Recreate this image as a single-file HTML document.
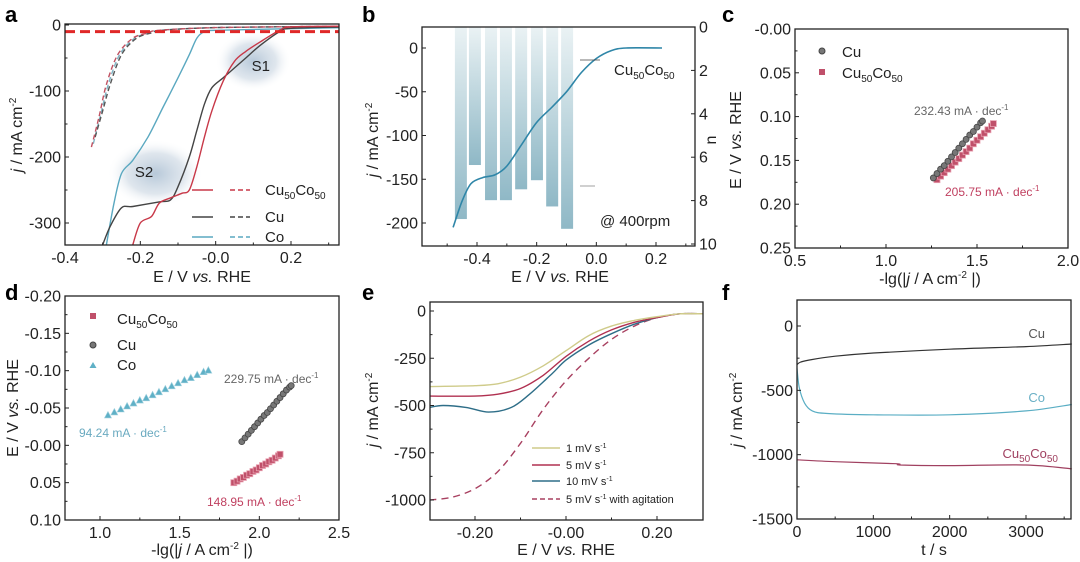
<!DOCTYPE html>
<html><head><meta charset="utf-8"><style>
html,body{margin:0;padding:0;background:#fff;}
svg{display:block;font-family:"Liberation Sans",sans-serif;}
</style></head><body>
<svg id="fig" width="1080" height="562" viewBox="0 0 1080 562">
<defs>
<radialGradient id="blob"><stop offset="0" stop-color="#9fb6cc" stop-opacity="0.75"/><stop offset="0.6" stop-color="#b8c8d8" stop-opacity="0.45"/><stop offset="1" stop-color="#fff" stop-opacity="0"/></radialGradient>
<linearGradient id="barg" x1="0" y1="0" x2="0" y2="1"><stop offset="0" stop-color="#eaf2f4"/><stop offset="1" stop-color="#8fb8c6"/></linearGradient>
</defs>
</svg>
<script>
// ---- data ----
const aE_cu50 = [-0.22,-0.2,-0.17,-0.15,-0.12,-0.09,-0.07,-0.05,-0.03,-0.01,0.02,0.05,0.08,0.12,0.17,0.2,0.33];
const aJ_cu50 = [-333,-300,-290,-270,-262,-255,-250,-215,-170,-130,-85,-55,-40,-25,-8,-3,-2];
const aE_cu = [-0.3,-0.28,-0.25,-0.22,-0.15,-0.12,-0.1,-0.07,-0.05,-0.03,-0.01,0.02,0.05,0.08,0.12,0.17,0.2,0.33];
const aJ_cu = [-333,-305,-277,-275,-268,-265,-245,-200,-160,-120,-95,-80,-65,-50,-30,-10,-5,-3];
const aE_co = [-0.29,-0.27,-0.25,-0.22,-0.18,-0.14,-0.1,-0.07,-0.05,-0.03,0,0.33];
const aJ_co = [-333,-270,-225,-205,-170,-125,-80,-45,-20,-10,-8,-4];
const aE_cu50d = [-0.33,-0.31,-0.29,-0.26,-0.22,-0.18,-0.15,0,0.33];
const aJ_cu50d = [-185,-140,-90,-45,-20,-12,-8,-4,-2];
const aE_cud = [-0.32,-0.30,-0.28,-0.25,-0.21,-0.17,-0.14,0,0.33];
const aJ_cud = [-170,-130,-90,-45,-20,-12,-8,-4,-2];
const aE_cod = [-0.325,-0.305,-0.285,-0.255,-0.215,-0.175,-0.145,0,0.33];
const aJ_cod = [-180,-135,-90,-45,-20,-12,-8,-4,-2];
const aThreshold = -10;

const bE = [-0.48,-0.45,-0.42,-0.38,-0.34,-0.30,-0.25,-0.20,-0.15,-0.10,-0.05,0,0.05,0.1,0.22];
const bJ = [-205,-175,-155,-148,-145,-135,-110,-85,-68,-50,-28,-12,-3,0,0];
const bBarE = [-0.454,-0.407,-0.353,-0.303,-0.252,-0.199,-0.148,-0.098];
const bBarN = [8.85,6.36,7.98,7.98,7.48,7.06,8.27,9.3];

const cCuX = [1.26,1.28,1.30,1.32,1.34,1.36,1.38,1.40,1.42,1.44,1.46,1.48,1.50,1.52,1.53];
const cCuY = [0.170,0.165,0.160,0.156,0.151,0.146,0.141,0.136,0.131,0.126,0.121,0.117,0.112,0.107,0.105];
const cAlX = [1.28,1.30,1.32,1.34,1.36,1.38,1.40,1.42,1.44,1.46,1.48,1.50,1.52,1.54,1.56,1.58,1.59];
const cAlY = [0.172,0.168,0.164,0.160,0.156,0.152,0.148,0.144,0.140,0.136,0.131,0.127,0.123,0.119,0.115,0.111,0.108];

const dCoX = [1.05,1.09,1.13,1.17,1.21,1.25,1.29,1.33,1.37,1.41,1.45,1.49,1.53,1.57,1.61,1.65,1.68];
const dCoY = [-0.040,-0.044,-0.048,-0.052,-0.056,-0.060,-0.063,-0.067,-0.071,-0.075,-0.079,-0.083,-0.087,-0.090,-0.094,-0.098,-0.100];
const dCuX = [1.89,1.91,1.93,1.95,1.97,1.99,2.01,2.03,2.05,2.07,2.09,2.11,2.13,2.15,2.17,2.19,2.20];
const dCuY = [-0.005,-0.010,-0.015,-0.020,-0.025,-0.030,-0.035,-0.040,-0.044,-0.049,-0.054,-0.059,-0.064,-0.069,-0.074,-0.078,-0.080];
const dAlX = [1.84,1.86,1.88,1.90,1.92,1.94,1.96,1.98,2.00,2.02,2.04,2.06,2.08,2.10,2.12,2.13];
const dAlY = [0.050,0.048,0.045,0.043,0.040,0.038,0.035,0.033,0.030,0.027,0.025,0.022,0.020,0.017,0.014,0.012];

const e1E = [-0.3,-0.2,-0.15,-0.1,-0.05,0,0.05,0.1,0.15,0.2,0.25,0.3];
const e1J = [-400,-395,-385,-350,-290,-210,-130,-80,-50,-30,-15,-15];
const e5E = [-0.3,-0.2,-0.15,-0.1,-0.05,0,0.05,0.1,0.15,0.2,0.25,0.3];
const e5J = [-450,-450,-440,-410,-340,-240,-160,-100,-60,-35,-15,-15];
const e10E = [-0.3,-0.27,-0.22,-0.17,-0.12,-0.08,-0.03,0,0.05,0.1,0.15,0.2,0.25,0.3];
const e10J = [-510,-500,-510,-535,-510,-440,-330,-260,-180,-120,-70,-35,-15,-15];
const eAgE = [-0.3,-0.25,-0.2,-0.15,-0.1,-0.05,0,0.05,0.1,0.15,0.2,0.25,0.3];
const eAgJ = [-1000,-985,-940,-850,-700,-520,-370,-250,-150,-80,-35,-15,-15];

const fCuT = [0,50,200,500,1000,2000,3000,3600];
const fCuJ = [-300,-280,-260,-235,-210,-180,-160,-140];
const fCoT = [0,30,100,200,400,1000,2000,3000,3600];
const fCoJ = [-330,-480,-600,-660,-680,-690,-690,-660,-610];
const fAlT = [0,500,1300,1350,2000,3000,3600];
const fAlJ = [-1040,-1055,-1070,-1080,-1085,-1080,-1110];

// ---- helpers ----
const NS = 'http://www.w3.org/2000/svg';
const svg = document.getElementById('fig');
const TF = 16;
function mk(tag, attrs, name, parent) {
  const e = document.createElementNS(NS, tag);
  for (const k in attrs) e.setAttribute(k, attrs[k]);
  
  
  (parent || svg).appendChild(e);
  return e;
}
function lin(d0, d1, p0, p1) { return v => p0 + (v - d0) * (p1 - p0) / (d1 - d0); }
function txt(x, y, html, size, name, opts) {
  opts = opts || {};
  const t = mk('text', {x: x, y: y, 'font-size': size, fill: opts.fill || '#222', 'text-anchor': opts.anchor || 'middle'}, name);
  if (opts.rot) t.setAttribute('transform', 'rotate(-90 ' + x + ' ' + y + ')');
  if (opts.bold) t.setAttribute('font-weight', 'bold');
  t.innerHTML = html;
  return t;
}
function frame(p, id) {
  mk('rect', {x: p.l, y: p.t, width: p.r - p.l, height: p.b - p.t, fill: 'none', stroke: '#222', 'stroke-width': 1.3}, id + '-frame');
}
function xticks(p, sx, vals, labels, id, minor) {
  vals.forEach((v, i) => {
    const x = sx(v);
    mk('line', {x1: x, x2: x, y1: p.b, y2: p.b - 4, stroke: '#222'}, id + '-x-tick');
    txt(x, p.b + 18, labels[i], TF, id + '-x-tick-label');
  });
  (minor || []).forEach(v => { const x = sx(v); mk('line', {x1: x, x2: x, y1: p.b, y2: p.b - 2.5, stroke: '#222'}, id + '-x-minor-tick'); });
}
function yticks(p, sy, vals, labels, id, minor) {
  vals.forEach((v, i) => {
    const y = sy(v);
    mk('line', {x1: p.l, x2: p.l + 4, y1: y, y2: y, stroke: '#222'}, id + '-y-tick');
    txt(p.l - 4, y + 5.5, labels[i], TF, id + '-y-tick-label', {anchor: 'end'});
  });
  (minor || []).forEach(v => { const y = sy(v); mk('line', {x1: p.l, x2: p.l + 2.5, y1: y, y2: y, stroke: '#222'}, id + '-y-minor-tick'); });
}
function smoothPath(pts) {
  let d = 'M' + pts[0][0].toFixed(1) + ',' + pts[0][1].toFixed(1);
  for (let i = 0; i < pts.length - 1; i++) {
    const p0 = pts[Math.max(0, i - 1)], p1 = pts[i], p2 = pts[i + 1], p3 = pts[Math.min(pts.length - 1, i + 2)];
    const t = 0.16;
    const c1x = p1[0] + (p2[0] - p0[0]) * t, c1y = p1[1] + (p2[1] - p0[1]) * t;
    const c2x = p2[0] - (p3[0] - p1[0]) * t, c2y = p2[1] - (p3[1] - p1[1]) * t;
    d += ' C' + c1x.toFixed(1) + ',' + c1y.toFixed(1) + ' ' + c2x.toFixed(1) + ',' + c2y.toFixed(1) + ' ' + p2[0].toFixed(1) + ',' + p2[1].toFixed(1);
  }
  return d;
}
function curve(xs, ys, sx, sy, color, name, dash, w) {
  const pts = xs.map((v, i) => [sx(v), sy(ys[i])]);
  const a = {d: smoothPath(pts), fill: 'none', stroke: color, 'stroke-width': w || 1.4, 'stroke-linejoin': 'round'};
  if (dash) a['stroke-dasharray'] = dash;
  return mk('path', a, name);
}
function clipFor(p, id) {
  const c = mk('clipPath', {id: id}, id);
  mk('rect', {x: p.l, y: p.t, width: p.r - p.l, height: p.b - p.t}, id + '-rect', c);
  return mk('g', {'clip-path': 'url(#' + id + ')'}, id + '-group');
}
function markers(xs, ys, sx, sy, kind, name) {
  xs.forEach((v, i) => {
    const x = sx(v), y = sy(ys[i]);
    if (kind === 'circle') mk('circle', {cx: x, cy: y, r: 3, fill: '#777', stroke: '#444', 'stroke-width': 0.8}, name);
    else if (kind === 'square') mk('rect', {x: x - 3, y: y - 3, width: 6, height: 6, fill: '#c0506a', stroke: '#e8a0b0', 'stroke-width': 0.8}, name);
    else mk('polygon', {points: x + ',' + (y - 4) + ' ' + (x - 3.5) + ',' + (y + 2.5) + ' ' + (x + 3.5) + ',' + (y + 2.5), fill: '#5fb0c6', stroke: '#9fd0de', 'stroke-width': 0.6}, name);
  });
}
const JY = '<tspan font-style="italic">j</tspan> / mA cm<tspan dy="-6" font-size="10">-2</tspan>';
const EX = 'E / V <tspan font-style="italic">vs.</tspan> RHE';
const LGX = '-lg(|<tspan font-style="italic">j</tspan> / A cm<tspan dy="-6" font-size="10">-2</tspan><tspan dy="6"> |)</tspan>';
const CUCO = 'Cu<tspan dy="4" font-size="10">50</tspan><tspan dy="-4">Co</tspan><tspan dy="4" font-size="10">50</tspan>';

// ---- panel a ----
{
  const p = {l: 65, t: 24, r: 339, b: 245};
  const sx = lin(-0.4, 0.2, 65, 291), sy = lin(0, -300, 25, 223);
  mk('ellipse', {cx: sx(0.1), cy: sy(-55), rx: 38, ry: 30, fill: 'url(#blob)'}, 'a-region-s1');
  mk('ellipse', {cx: sx(-0.16), cy: sy(-225), rx: 48, ry: 34, fill: 'url(#blob)'}, 'a-region-s2');
  const g = clipFor(p, 'clip-a');
  [[aE_cod, aJ_cod, '#80b4c4', 'a-co-dashed'], [aE_cud, aJ_cud, '#555', 'a-cu-dashed'], [aE_cu50d, aJ_cu50d, '#c05060', 'a-cu50co50-dashed']].forEach(s => g.appendChild(curve(s[0], s[1], sx, sy, s[2], s[3], '5,3')));
  g.appendChild(curve(aE_co, aJ_co, sx, sy, '#5aa8c0', 'a-co-curve'));
  g.appendChild(curve(aE_cu, aJ_cu, sx, sy, '#444', 'a-cu-curve'));
  g.appendChild(curve(aE_cu50, aJ_cu50, sx, sy, '#c83848', 'a-cu50co50-curve'));
  g.appendChild(mk('line', {x1: p.l, x2: p.r, y1: sy(aThreshold), y2: sy(aThreshold), stroke: '#e02828', 'stroke-width': 3, 'stroke-dasharray': '10,5'}, 'a-threshold-line'));
  frame(p, 'a');
  xticks(p, sx, [-0.4, -0.2, 0, 0.2], ['-0.4', '-0.2', '-0.0', '0.2'], 'a', [-0.3, -0.1, 0.1, 0.3]);
  yticks(p, sy, [0, -100, -200, -300], ['0', '-100', '-200', '-300'], 'a', [-50, -150, -250]);
  txt(sx(0.12), sy(-70), 'S1', 15, 'a-label-s1');
  txt(sx(-0.19), sy(-230), 'S2', 15, 'a-label-s2');
  [['#c83848', CUCO, 190], ['#444', 'Cu', 217], ['#5aa8c0', 'Co', 237]].forEach(l => {
    mk('line', {x1: 192, x2: 213, y1: l[2], y2: l[2], stroke: l[0], 'stroke-width': 1.4}, 'a-legend-solid');
    mk('line', {x1: 230, x2: 250, y1: l[2], y2: l[2], stroke: l[0], 'stroke-width': 1.4, 'stroke-dasharray': '5,3'}, 'a-legend-dashed');
    txt(265, l[2] + 5, l[1], 15, 'a-legend-label', {anchor: 'start'});
  });
  txt(202, 282, EX, TF, 'a-x-axis-title');
  txt(22, 135, JY, TF, 'a-y-axis-title', {rot: true});
  txt(5, 22, 'a', 22, 'a-panel-label', {anchor: 'start', bold: true, fill: '#000'});
}

// ---- panel b ----
{
  const p = {l: 422, t: 27, r: 695, b: 246};
  const sx = lin(-0.4, 0.2, 477, 656), sy = lin(0, -200, 48, 223), sn = lin(0, 10, 27, 244);
  bBarE.forEach((e, i) => {
    mk('rect', {x: sx(e) - 6, y: sn(0), width: 12, height: sn(bBarN[i]) - sn(0), fill: 'url(#barg)'}, 'b-n-bar');
  });
  curve(bE, bJ, sx, sy, '#2f86a8', 'b-cu50co50-curve', null, 1.6);
  frame(p, 'b');
  xticks(p, sx, [-0.4, -0.2, 0, 0.2], ['-0.4', '-0.2', '0.0', '0.2'], 'b', [-0.5, -0.3, -0.1, 0.1, 0.3]);
  yticks(p, sy, [0, -50, -100, -150, -200], ['0', '-50', '-100', '-150', '-200'], 'b', []);
  [0, 2, 4, 6, 8, 10].forEach(v => {
    mk('line', {x1: p.r, x2: p.r - 4, y1: sn(v), y2: sn(v), stroke: '#222'}, 'b-right-tick');
    txt(p.r + 4, sn(v) + 5.5, String(v), TF, 'b-right-tick-label', {anchor: 'start'});
  });
  mk('line', {x1: 580, x2: 600, y1: 60, y2: 60, stroke: '#444', 'stroke-width': 0.8}, 'b-arrow-left');
  mk('line', {x1: 580, x2: 595, y1: 186, y2: 186, stroke: '#888', 'stroke-width': 0.8}, 'b-arrow-right');
  txt(614, 75, CUCO, 15, 'b-series-label', {anchor: 'start'});
  txt(600, 226, '@ 400rpm', 15, 'b-rpm-label', {anchor: 'start'});
  txt(560, 282, EX, TF, 'b-x-axis-title');
  txt(378, 140, JY, TF, 'b-y-axis-title', {rot: true});
  txt(716, 140, 'n', TF, 'b-right-axis-title', {rot: true});
  txt(362, 22, 'b', 22, 'b-panel-label', {anchor: 'start', bold: true, fill: '#000'});
}

// ---- panel c ----
{
  const p = {l: 795, t: 29, r: 1068, b: 248};
  const sx = lin(0.5, 2.0, 795, 1068), sy = lin(0, 0.25, 29, 248);
  markers(cAlX, cAlY, sx, sy, 'square', 'c-cu50co50-point');
  markers(cCuX, cCuY, sx, sy, 'circle', 'c-cu-point');
  frame(p, 'c');
  xticks(p, sx, [0.5, 1.0, 1.5, 2.0], ['0.5', '1.0', '1.5', '2.0'], 'c', [0.75, 1.25, 1.75]);
  yticks(p, sy, [0, 0.05, 0.1, 0.15, 0.2, 0.25], ['-0.00', '0.05', '0.10', '0.15', '0.20', '0.25'], 'c', [0.025, 0.075, 0.125, 0.175, 0.225]);
  mk('circle', {cx: 822, cy: 51, r: 3, fill: '#777', stroke: '#444'}, 'c-legend-cu-marker');
  txt(842, 57, 'Cu', 15, 'c-legend-cu', {anchor: 'start'});
  mk('rect', {x: 819, y: 69, width: 6, height: 6, fill: '#c0506a'}, 'c-legend-cu50co50-marker');
  txt(842, 78, CUCO, 15, 'c-legend-cu50co50', {anchor: 'start'});
  txt(914, 115, '232.43 mA · dec<tspan dy="-5" font-size="8">-1</tspan>', 12, 'c-slope-cu', {anchor: 'start', fill: '#666'});
  txt(945, 196, '205.75 mA · dec<tspan dy="-5" font-size="8">-1</tspan>', 12, 'c-slope-cu50co50', {anchor: 'start', fill: '#c04060'});
  txt(930, 284, LGX, TF, 'c-x-axis-title');
  txt(741, 140, EX, TF, 'c-y-axis-title', {rot: true});
  txt(722, 22, 'c', 22, 'c-panel-label', {anchor: 'start', bold: true, fill: '#000'});
}

// ---- panel d ----
{
  const p = {l: 65, t: 296, r: 339, b: 520};
  const sx = lin(1.0, 2.5, 100, 339), sy = lin(-0.2, 0.1, 296, 520);
  markers(dCoX, dCoY, sx, sy, 'tri', 'd-co-point');
  markers(dCuX, dCuY, sx, sy, 'circle', 'd-cu-point');
  markers(dAlX, dAlY, sx, sy, 'square', 'd-cu50co50-point');
  frame(p, 'd');
  xticks(p, sx, [1.0, 1.5, 2.0, 2.5], ['1.0', '1.5', '2.0', '2.5'], 'd', [1.25, 1.75, 2.25]);
  yticks(p, sy, [-0.2, -0.15, -0.1, -0.05, 0, 0.05, 0.1], ['-0.20', '-0.15', '-0.10', '-0.05', '-0.00', '0.05', '0.10'], 'd', [-0.175, -0.125, -0.075, -0.025, 0.025, 0.075]);
  mk('rect', {x: 90, y: 313, width: 6, height: 6, fill: '#c0506a'}, 'd-legend-cu50co50-marker');
  txt(117, 324, CUCO, 15, 'd-legend-cu50co50', {anchor: 'start'});
  mk('circle', {cx: 93, cy: 345, r: 3, fill: '#777', stroke: '#444'}, 'd-legend-cu-marker');
  txt(117, 350, 'Cu', 15, 'd-legend-cu', {anchor: 'start'});
  mk('polygon', {points: '93,362 89.5,368 96.5,368', fill: '#5fb0c6'}, 'd-legend-co-marker');
  txt(117, 370, 'Co', 15, 'd-legend-co', {anchor: 'start'});
  txt(224, 383, '229.75 mA · dec<tspan dy="-5" font-size="8">-1</tspan>', 12, 'd-slope-cu', {anchor: 'start', fill: '#666'});
  txt(79, 437, '94.24 mA · dec<tspan dy="-5" font-size="8">-1</tspan>', 12, 'd-slope-co', {anchor: 'start', fill: '#6aaac0'});
  txt(207, 506, '148.95 mA · dec<tspan dy="-5" font-size="8">-1</tspan>', 12, 'd-slope-cu50co50', {anchor: 'start', fill: '#c04060'});
  txt(202, 555, LGX, TF, 'd-x-axis-title');
  txt(18, 408, EX, TF, 'd-y-axis-title', {rot: true});
  txt(5, 300, 'd', 22, 'd-panel-label', {anchor: 'start', bold: true, fill: '#000'});
}

// ---- panel e ----
{
  const p = {l: 430, t: 302, r: 703, b: 520};
  const sx = lin(-0.2, 0.2, 475, 657), sy = lin(0, -1000, 311, 500);
  const g = clipFor(p, 'clip-e');
  g.appendChild(curve(eAgE, eAgJ, sx, sy, '#a84060', 'e-agitation-curve', '7,5'));
  g.appendChild(curve(e10E, e10J, sx, sy, '#2e6e88', 'e-10mv-curve'));
  g.appendChild(curve(e5E, e5J, sx, sy, '#b03050', 'e-5mv-curve'));
  g.appendChild(curve(e1E, e1J, sx, sy, '#cfcb8a', 'e-1mv-curve'));
  frame(p, 'e');
  xticks(p, sx, [-0.2, 0, 0.2], ['-0.20', '-0.00', '0.20'], 'e', [-0.1, 0.1]);
  yticks(p, sy, [0, -250, -500, -750, -1000], ['0', '-250', '-500', '-750', '-1000'], 'e', [-125, -375, -625, -875]);
  [['#cfcb8a', '1 mV s<tspan dy="-4" font-size="7">-1</tspan>', 448, null], ['#b03050', '5 mV s<tspan dy="-4" font-size="7">-1</tspan>', 465, null], ['#2e6e88', '10 mV s<tspan dy="-4" font-size="7">-1</tspan>', 481, null], ['#a84060', '5 mV s<tspan dy="-4" font-size="7">-1</tspan><tspan dy="4"> with agitation</tspan>', 499, '5,3']].forEach(l => {
    const a = {x1: 532, x2: 560, y1: l[2], y2: l[2], stroke: l[0], 'stroke-width': 1.4};
    if (l[3]) a['stroke-dasharray'] = l[3];
    mk('line', a, 'e-legend-line');
    txt(566, l[2] + 4, l[1], 11, 'e-legend-label', {anchor: 'start'});
  });
  txt(566, 555, EX, TF, 'e-x-axis-title');
  txt(378, 410, JY, TF, 'e-y-axis-title', {rot: true});
  txt(362, 300, 'e', 22, 'e-panel-label', {anchor: 'start', bold: true, fill: '#000'});
}

// ---- panel f ----
{
  const p = {l: 797, t: 300, r: 1071, b: 519};
  const sx = lin(0, 3000, 797, 1026), sy = lin(0, -1500, 326, 519);
  curve(fCuT, fCuJ, sx, sy, '#333', 'f-cu-curve', null, 1.2);
  curve(fCoT, fCoJ, sx, sy, '#5aaec4', 'f-co-curve', null, 1.2);
  curve(fAlT, fAlJ, sx, sy, '#a04060', 'f-cu50co50-curve', null, 1.2);
  frame(p, 'f');
  xticks(p, sx, [0, 1000, 2000, 3000], ['0', '1000', '2000', '3000'], 'f', [500, 1500, 2500, 3500]);
  yticks(p, sy, [0, -500, -1000, -1500], ['0', '-500', '-1000', '-1500'], 'f', [-250, -750, -1250]);
  txt(1045, 338, 'Cu', 13, 'f-label-cu', {anchor: 'end', fill: '#555'});
  txt(1045, 402, 'Co', 13, 'f-label-co', {anchor: 'end', fill: '#6ab0c6'});
  txt(1058, 458, CUCO, 13, 'f-label-cu50co50', {anchor: 'end', fill: '#a04060'});
  txt(934, 555, 't / s', TF, 'f-x-axis-title');
  txt(742, 410, JY, TF, 'f-y-axis-title', {rot: true});
  txt(722, 300, 'f', 22, 'f-panel-label', {anchor: 'start', bold: true, fill: '#000'});
}
</script>
</body></html>
